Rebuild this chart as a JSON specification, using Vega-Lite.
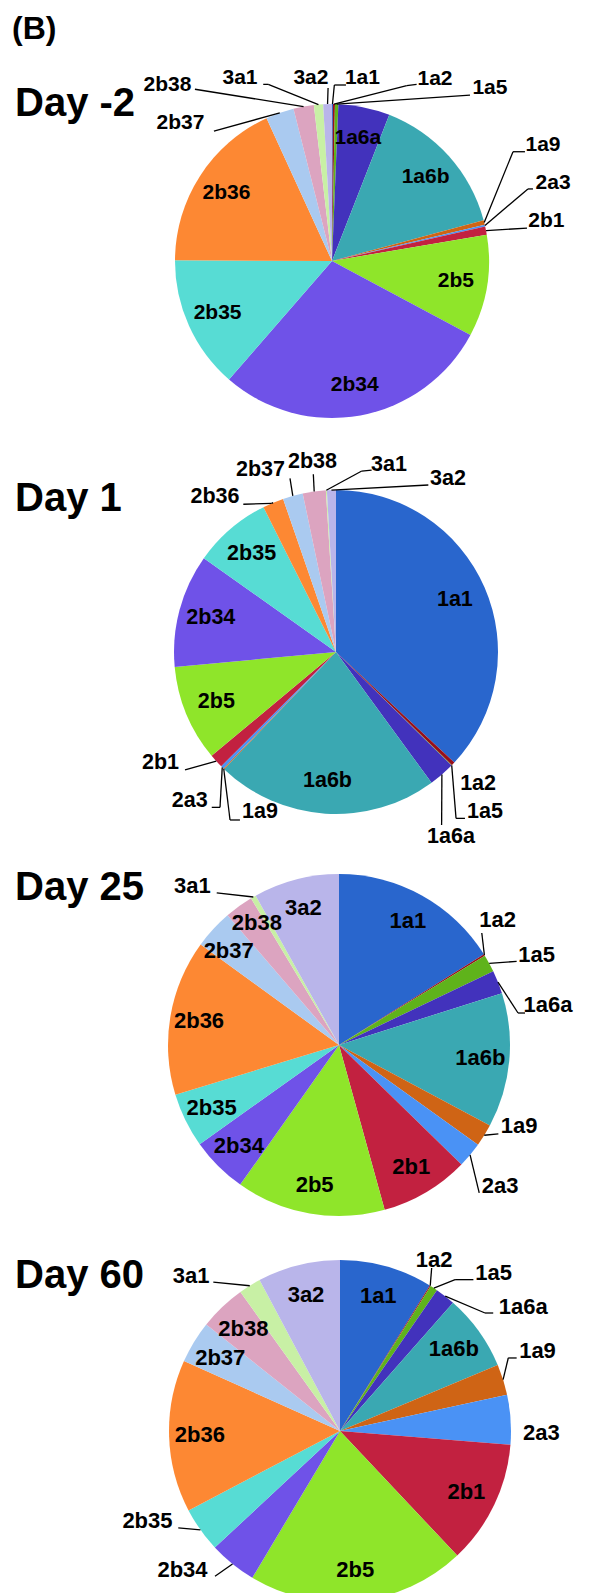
{
  "$schema": "https://vega.github.io/schema/vega-lite/v6.json",
  "padding": 0,
  "spacing": 0,
  "background": "white",
  "title": {"text": "(B)", "anchor": "start", "orient": "top", "offset": -46, "dx": 12, "fontSize": 32, "font": "Liberation Sans", "fontWeight": "bold", "color": "#000"},
  "config": {"view": {"stroke": null}},
  "datasets": {
    "comp": [
      {"day": "Day -2", "type": "1a1", "order": 1, "pct": 0.1},
      {"day": "Day -2", "type": "1a2", "order": 2, "pct": 0.2},
      {"day": "Day -2", "type": "1a5", "order": 3, "pct": 0.35},
      {"day": "Day -2", "type": "1a6a", "order": 4, "pct": 5.3},
      {"day": "Day -2", "type": "1a6b", "order": 5, "pct": 14.9},
      {"day": "Day -2", "type": "1a9", "order": 6, "pct": 0.45},
      {"day": "Day -2", "type": "2a3", "order": 7, "pct": 0.2},
      {"day": "Day -2", "type": "2b1", "order": 8, "pct": 0.85},
      {"day": "Day -2", "type": "2b5", "order": 9, "pct": 10.5},
      {"day": "Day -2", "type": "2b34", "order": 10, "pct": 28.6},
      {"day": "Day -2", "type": "2b35", "order": 11, "pct": 13.7},
      {"day": "Day -2", "type": "2b36", "order": 12, "pct": 18.1},
      {"day": "Day -2", "type": "2b37", "order": 13, "pct": 2.9},
      {"day": "Day -2", "type": "2b38", "order": 14, "pct": 2.1},
      {"day": "Day -2", "type": "3a1", "order": 15, "pct": 0.95},
      {"day": "Day -2", "type": "3a2", "order": 16, "pct": 0.9},
      {"day": "Day 1", "type": "1a1", "order": 1, "pct": 37},
      {"day": "Day 1", "type": "1a2", "order": 2, "pct": 0.35},
      {"day": "Day 1", "type": "1a5", "order": 3, "pct": 0.05},
      {"day": "Day 1", "type": "1a6a", "order": 4, "pct": 2.6},
      {"day": "Day 1", "type": "1a6b", "order": 5, "pct": 22.2},
      {"day": "Day 1", "type": "1a9", "order": 6, "pct": 0.1},
      {"day": "Day 1", "type": "2a3", "order": 7, "pct": 0.3},
      {"day": "Day 1", "type": "2b1", "order": 8, "pct": 1.4},
      {"day": "Day 1", "type": "2b5", "order": 9, "pct": 9.6},
      {"day": "Day 1", "type": "2b34", "order": 10, "pct": 11.3},
      {"day": "Day 1", "type": "2b35", "order": 11, "pct": 7.8},
      {"day": "Day 1", "type": "2b36", "order": 12, "pct": 2.1},
      {"day": "Day 1", "type": "2b37", "order": 13, "pct": 2.0},
      {"day": "Day 1", "type": "2b38", "order": 14, "pct": 2.3},
      {"day": "Day 1", "type": "3a1", "order": 15, "pct": 0.1},
      {"day": "Day 1", "type": "3a2", "order": 16, "pct": 0.9},
      {"day": "Day 25", "type": "1a1", "order": 1, "pct": 16.1},
      {"day": "Day 25", "type": "1a2", "order": 2, "pct": 0.15},
      {"day": "Day 25", "type": "1a5", "order": 3, "pct": 1.65},
      {"day": "Day 25", "type": "1a6a", "order": 4, "pct": 2.2},
      {"day": "Day 25", "type": "1a6b", "order": 5, "pct": 12.7},
      {"day": "Day 25", "type": "1a9", "order": 6, "pct": 2.1},
      {"day": "Day 25", "type": "2a3", "order": 7, "pct": 2.4},
      {"day": "Day 25", "type": "2b1", "order": 8, "pct": 8.4},
      {"day": "Day 25", "type": "2b5", "order": 9, "pct": 14.1},
      {"day": "Day 25", "type": "2b34", "order": 10, "pct": 5.35},
      {"day": "Day 25", "type": "2b35", "order": 11, "pct": 5.15},
      {"day": "Day 25", "type": "2b36", "order": 12, "pct": 14.7},
      {"day": "Day 25", "type": "2b37", "order": 13, "pct": 3.7},
      {"day": "Day 25", "type": "2b38", "order": 14, "pct": 2.7},
      {"day": "Day 25", "type": "3a1", "order": 15, "pct": 0.5},
      {"day": "Day 25", "type": "3a2", "order": 16, "pct": 8.1},
      {"day": "Day 60", "type": "1a1", "order": 1, "pct": 8.8},
      {"day": "Day 60", "type": "1a2", "order": 2, "pct": 0.1},
      {"day": "Day 60", "type": "1a5", "order": 3, "pct": 0.7},
      {"day": "Day 60", "type": "1a6a", "order": 4, "pct": 1.9},
      {"day": "Day 60", "type": "1a6b", "order": 5, "pct": 7.2},
      {"day": "Day 60", "type": "1a9", "order": 6, "pct": 2.9},
      {"day": "Day 60", "type": "2a3", "order": 7, "pct": 4.7},
      {"day": "Day 60", "type": "2b1", "order": 8, "pct": 11.7},
      {"day": "Day 60", "type": "2b5", "order": 9, "pct": 20.6},
      {"day": "Day 60", "type": "2b34", "order": 10, "pct": 4.5},
      {"day": "Day 60", "type": "2b35", "order": 11, "pct": 4.25},
      {"day": "Day 60", "type": "2b36", "order": 12, "pct": 14.4},
      {"day": "Day 60", "type": "2b37", "order": 13, "pct": 4.0},
      {"day": "Day 60", "type": "2b38", "order": 14, "pct": 4.4},
      {"day": "Day 60", "type": "3a1", "order": 15, "pct": 2.1},
      {"day": "Day 60", "type": "3a2", "order": 16, "pct": 7.8}
    ]
  },
  "vconcat": [
    {
      "width": 591, "height": 450,
      "title": {"text": "Day -2", "anchor": "start", "offset": -124, "dx": 15, "fontSize": 40, "font": "Liberation Sans", "fontWeight": "bold", "color": "#000"},
      "data": {"name": "comp"},
      "transform": [
        {"filter": "datum.day == 'Day -2'"},
        {"stack": "pct", "groupby": [], "sort": [{"field": "order", "order": "ascending"}], "offset": "normalize", "as": ["s0", "s1"]},
        {"calculate": "PI * (datum.s0 + datum.s1)", "as": "mid"},
        {"calculate": "sin(datum.mid)", "as": "ux"},
        {"calculate": "cos(datum.mid)", "as": "uy"},
        {"calculate": "{'2b38': [-1.048, 1.123, -0.873, 1.094, -0.873, 1.094], '3a1': [-0.586, 1.164, -0.406, 1.125, -0.438, 1.125], '3a2': [-0.134, 1.166, -0.025, 1.102, -0.025, 1.102], '1a1': [0.194, 1.166, 0.015, 1.121, 0.089, 1.121], '1a2': [0.656, 1.159, 0.476, 1.117, 0.539, 1.125], '1a5': [1.006, 1.1, 0.879, 1.057, 0.879, 1.057], '2b37': [-0.965, 0.879, -0.752, 0.828, -0.752, 0.828], '1a9': [1.344, 0.739, 1.153, 0.696, 1.229, 0.696], '2a3': [1.408, 0.497, 1.248, 0.459, 1.28, 0.459], '2b1': [1.366, 0.255, 1.242, 0.21, 1.242, 0.21]}[datum.type]", "as": "lab"},
        {"calculate": "isValid(datum.lab) ? datum.lab[0] : 0.8 * datum.ux", "as": "tx"},
        {"calculate": "isValid(datum.lab) ? datum.lab[1] : 0.8 * datum.uy", "as": "ty"},
        {"calculate": "isValid(datum.lab) && length(datum.lab) > 2 ? datum.lab[2] : 0", "as": "ax"},
        {"calculate": "isValid(datum.lab) && length(datum.lab) > 2 ? datum.lab[3] : 0", "as": "ay"},
        {"calculate": "isValid(datum.lab) && length(datum.lab) > 2 ? datum.lab[4] : 0", "as": "bx"},
        {"calculate": "isValid(datum.lab) && length(datum.lab) > 2 ? datum.lab[5] : 0", "as": "by"}
      ],
      "layer": [
        {
          "mark": {"type": "arc", "outerRadius": 157},
          "encoding": {
            "x": {"datum": 0, "type": "quantitative", "scale": {"domain": [-2.1146, 1.6497], "nice": false, "zero": false}, "axis": null},
            "y": {"datum": 0, "type": "quantitative", "scale": {"domain": [-1.2038, 1.6624], "nice": false, "zero": false}, "axis": null},
            "theta": {"field": "s0", "type": "quantitative", "scale": {"domain": [0, 1]}},
            "theta2": {"field": "s1"},
            "color": {"field": "type", "type": "nominal", "legend": null, "scale": {"domain": ["1a1","1a2","1a5","1a6a","1a6b","1a9","2a3","2b1","2b5","2b34","2b35","2b36","2b37","2b38","3a1","3a2"], "range": ["#2966CD","#990F1A","#5FB31B","#4232BC","#3AA8B2","#CF6415","#4A92F5","#C22140","#8FE52A","#6F52E8","#57DCD4","#FD8833","#AACAF0","#DCA4C0","#C8F0A5","#B9B5EA"]}}
          }
        },
        {
          "transform": [{"filter": "isValid(datum.lab) && length(datum.lab) > 2"}],
          "mark": {"type": "rule", "color": "#000", "strokeWidth": 1.3},
          "encoding": {
            "x": {"field": "ux", "type": "quantitative", "scale": {"domain": [-2.1146, 1.6497], "nice": false, "zero": false}, "axis": null},
            "y": {"field": "uy", "type": "quantitative", "scale": {"domain": [-1.2038, 1.6624], "nice": false, "zero": false}, "axis": null},
            "x2": {"field": "ax"},
            "y2": {"field": "ay"}
          }
        },
        {
          "transform": [{"filter": "isValid(datum.lab) && length(datum.lab) > 2"}],
          "mark": {"type": "rule", "color": "#000", "strokeWidth": 1.3},
          "encoding": {
            "x": {"field": "ax", "type": "quantitative", "scale": {"domain": [-2.1146, 1.6497], "nice": false, "zero": false}, "axis": null},
            "y": {"field": "ay", "type": "quantitative", "scale": {"domain": [-1.2038, 1.6624], "nice": false, "zero": false}, "axis": null},
            "x2": {"field": "bx"},
            "y2": {"field": "by"}
          }
        },
        {
          "mark": {"type": "text", "font": "Liberation Sans", "fontWeight": "bold", "fontSize": 21, "align": "center", "baseline": "middle", "color": "#000"},
          "encoding": {
            "x": {"field": "tx", "type": "quantitative", "scale": {"domain": [-2.1146, 1.6497], "nice": false, "zero": false}, "axis": null},
            "y": {"field": "ty", "type": "quantitative", "scale": {"domain": [-1.2038, 1.6624], "nice": false, "zero": false}, "axis": null},
            "text": {"field": "type", "type": "nominal"}
          }
        }
      ]
    },
    {
      "width": 591, "height": 390,
      "title": {"text": "Day 1", "anchor": "start", "offset": -69, "dx": 15, "fontSize": 40, "font": "Liberation Sans", "fontWeight": "bold", "color": "#000"},
      "data": {"name": "comp"},
      "transform": [
        {"filter": "datum.day == 'Day 1'"},
        {"stack": "pct", "groupby": [], "sort": [{"field": "order", "order": "ascending"}], "offset": "normalize", "as": ["s0", "s1"]},
        {"calculate": "PI * (datum.s0 + datum.s1)", "as": "mid"},
        {"calculate": "sin(datum.mid)", "as": "ux"},
        {"calculate": "cos(datum.mid)", "as": "uy"},
        {"calculate": "{'2b36': [-0.747, 0.959, -0.397, 0.918, -0.572, 0.912], '2b37': [-0.466, 1.123, -0.284, 1.072, -0.284, 1.072], '2b38': [-0.145, 1.175, -0.14, 1.097, -0.14, 1.097], '3a1': [0.327, 1.154, 0.159, 1.117, 0.22, 1.123], '3a2': [0.691, 1.068, 0.57, 1.031, 0.57, 1.031], '2b1': [-1.083, -0.683, -0.932, -0.728, -0.932, -0.728], '2a3': [-0.903, -0.918, -0.716, -0.959, -0.767, -0.959], '1a9': [-0.469, -0.986, -0.654, -1.037, -0.593, -1.037], '1a2': [0.877, -0.815], '1a5': [0.92, -0.986, 0.741, -1.027, 0.796, -1.027], '1a6a': [0.71, -1.144, 0.652, -1.068, 0.652, -1.068]}[datum.type]", "as": "lab"},
        {"calculate": "isValid(datum.lab) ? datum.lab[0] : 0.8 * datum.ux", "as": "tx"},
        {"calculate": "isValid(datum.lab) ? datum.lab[1] : 0.8 * datum.uy", "as": "ty"},
        {"calculate": "isValid(datum.lab) && length(datum.lab) > 2 ? datum.lab[2] : 0", "as": "ax"},
        {"calculate": "isValid(datum.lab) && length(datum.lab) > 2 ? datum.lab[3] : 0", "as": "ay"},
        {"calculate": "isValid(datum.lab) && length(datum.lab) > 2 ? datum.lab[4] : 0", "as": "bx"},
        {"calculate": "isValid(datum.lab) && length(datum.lab) > 2 ? datum.lab[5] : 0", "as": "by"}
      ],
      "layer": [
        {
          "mark": {"type": "arc", "outerRadius": 162},
          "encoding": {
            "x": {"datum": 0, "type": "quantitative", "scale": {"domain": [-2.0741, 1.5741], "nice": false, "zero": false}, "axis": null},
            "y": {"datum": 0, "type": "quantitative", "scale": {"domain": [-1.1605, 1.2469], "nice": false, "zero": false}, "axis": null},
            "theta": {"field": "s0", "type": "quantitative", "scale": {"domain": [0, 1]}},
            "theta2": {"field": "s1"},
            "color": {"field": "type", "type": "nominal", "legend": null, "scale": {"domain": ["1a1","1a2","1a5","1a6a","1a6b","1a9","2a3","2b1","2b5","2b34","2b35","2b36","2b37","2b38","3a1","3a2"], "range": ["#2966CD","#990F1A","#5FB31B","#4232BC","#3AA8B2","#CF6415","#4A92F5","#C22140","#8FE52A","#6F52E8","#57DCD4","#FD8833","#AACAF0","#DCA4C0","#C8F0A5","#B9B5EA"]}}
          }
        },
        {
          "transform": [{"filter": "isValid(datum.lab) && length(datum.lab) > 2"}],
          "mark": {"type": "rule", "color": "#000", "strokeWidth": 1.3},
          "encoding": {
            "x": {"field": "ux", "type": "quantitative", "scale": {"domain": [-2.0741, 1.5741], "nice": false, "zero": false}, "axis": null},
            "y": {"field": "uy", "type": "quantitative", "scale": {"domain": [-1.1605, 1.2469], "nice": false, "zero": false}, "axis": null},
            "x2": {"field": "ax"},
            "y2": {"field": "ay"}
          }
        },
        {
          "transform": [{"filter": "isValid(datum.lab) && length(datum.lab) > 2"}],
          "mark": {"type": "rule", "color": "#000", "strokeWidth": 1.3},
          "encoding": {
            "x": {"field": "ax", "type": "quantitative", "scale": {"domain": [-2.0741, 1.5741], "nice": false, "zero": false}, "axis": null},
            "y": {"field": "ay", "type": "quantitative", "scale": {"domain": [-1.1605, 1.2469], "nice": false, "zero": false}, "axis": null},
            "x2": {"field": "bx"},
            "y2": {"field": "by"}
          }
        },
        {
          "mark": {"type": "text", "font": "Liberation Sans", "fontWeight": "bold", "fontSize": 21.5, "align": "center", "baseline": "middle", "color": "#000"},
          "encoding": {
            "x": {"field": "tx", "type": "quantitative", "scale": {"domain": [-2.0741, 1.5741], "nice": false, "zero": false}, "axis": null},
            "y": {"field": "ty", "type": "quantitative", "scale": {"domain": [-1.1605, 1.2469], "nice": false, "zero": false}, "axis": null},
            "text": {"field": "type", "type": "nominal"}
          }
        }
      ]
    },
    {
      "width": 591, "height": 380,
      "title": {"text": "Day 25", "anchor": "start", "offset": -60, "dx": 15, "fontSize": 40, "font": "Liberation Sans", "fontWeight": "bold", "color": "#000"},
      "data": {"name": "comp"},
      "transform": [
        {"filter": "datum.day == 'Day 25'"},
        {"stack": "pct", "groupby": [], "sort": [{"field": "order", "order": "ascending"}], "offset": "normalize", "as": ["s0", "s1"]},
        {"calculate": "PI * (datum.s0 + datum.s1)", "as": "mid"},
        {"calculate": "sin(datum.mid)", "as": "ux"},
        {"calculate": "cos(datum.mid)", "as": "uy"},
        {"calculate": "{'3a1': [-0.857, 0.928, -0.715, 0.889, -0.715, 0.889], '1a2': [0.927, 0.733, 0.835, 0.655, 0.835, 0.655], '1a5': [1.156, 0.528, 1.039, 0.489, 1.039, 0.489], '1a6a': [1.222, 0.236, 1.047, 0.187, 1.088, 0.187], '1a9': [1.053, -0.475, 0.932, -0.52, 0.932, -0.52], '2a3': [0.942, -0.826, 0.82, -0.865, 0.82, -0.865], '2b38': [-0.48, 0.715], '2b37': [-0.645, 0.55]}[datum.type]", "as": "lab"},
        {"calculate": "isValid(datum.lab) ? datum.lab[0] : 0.83 * datum.ux", "as": "tx"},
        {"calculate": "isValid(datum.lab) ? datum.lab[1] : 0.83 * datum.uy", "as": "ty"},
        {"calculate": "isValid(datum.lab) && length(datum.lab) > 2 ? datum.lab[2] : 0", "as": "ax"},
        {"calculate": "isValid(datum.lab) && length(datum.lab) > 2 ? datum.lab[3] : 0", "as": "ay"},
        {"calculate": "isValid(datum.lab) && length(datum.lab) > 2 ? datum.lab[4] : 0", "as": "bx"},
        {"calculate": "isValid(datum.lab) && length(datum.lab) > 2 ? datum.lab[5] : 0", "as": "by"}
      ],
      "layer": [
        {
          "mark": {"type": "arc", "outerRadius": 171},
          "encoding": {
            "x": {"datum": 0, "type": "quantitative", "scale": {"domain": [-1.9825, 1.4737], "nice": false, "zero": false}, "axis": null},
            "y": {"datum": 0, "type": "quantitative", "scale": {"domain": [-1.0702, 1.152], "nice": false, "zero": false}, "axis": null},
            "theta": {"field": "s0", "type": "quantitative", "scale": {"domain": [0, 1]}},
            "theta2": {"field": "s1"},
            "color": {"field": "type", "type": "nominal", "legend": null, "scale": {"domain": ["1a1","1a2","1a5","1a6a","1a6b","1a9","2a3","2b1","2b5","2b34","2b35","2b36","2b37","2b38","3a1","3a2"], "range": ["#2966CD","#990F1A","#5FB31B","#4232BC","#3AA8B2","#CF6415","#4A92F5","#C22140","#8FE52A","#6F52E8","#57DCD4","#FD8833","#AACAF0","#DCA4C0","#C8F0A5","#B9B5EA"]}}
          }
        },
        {
          "transform": [{"filter": "isValid(datum.lab) && length(datum.lab) > 2"}],
          "mark": {"type": "rule", "color": "#000", "strokeWidth": 1.3},
          "encoding": {
            "x": {"field": "ux", "type": "quantitative", "scale": {"domain": [-1.9825, 1.4737], "nice": false, "zero": false}, "axis": null},
            "y": {"field": "uy", "type": "quantitative", "scale": {"domain": [-1.0702, 1.152], "nice": false, "zero": false}, "axis": null},
            "x2": {"field": "ax"},
            "y2": {"field": "ay"}
          }
        },
        {
          "transform": [{"filter": "isValid(datum.lab) && length(datum.lab) > 2"}],
          "mark": {"type": "rule", "color": "#000", "strokeWidth": 1.3},
          "encoding": {
            "x": {"field": "ax", "type": "quantitative", "scale": {"domain": [-1.9825, 1.4737], "nice": false, "zero": false}, "axis": null},
            "y": {"field": "ay", "type": "quantitative", "scale": {"domain": [-1.0702, 1.152], "nice": false, "zero": false}, "axis": null},
            "x2": {"field": "bx"},
            "y2": {"field": "by"}
          }
        },
        {
          "mark": {"type": "text", "font": "Liberation Sans", "fontWeight": "bold", "fontSize": 22, "align": "center", "baseline": "middle", "color": "#000"},
          "encoding": {
            "x": {"field": "tx", "type": "quantitative", "scale": {"domain": [-1.9825, 1.4737], "nice": false, "zero": false}, "axis": null},
            "y": {"field": "ty", "type": "quantitative", "scale": {"domain": [-1.0702, 1.152], "nice": false, "zero": false}, "axis": null},
            "text": {"field": "type", "type": "nominal"}
          }
        }
      ]
    },
    {
      "width": 591, "height": 373,
      "title": {"text": "Day 60", "anchor": "start", "offset": -68, "dx": 15, "fontSize": 40, "font": "Liberation Sans", "fontWeight": "bold", "color": "#000"},
      "data": {"name": "comp"},
      "transform": [
        {"filter": "datum.day == 'Day 60'"},
        {"stack": "pct", "groupby": [], "sort": [{"field": "order", "order": "ascending"}], "offset": "normalize", "as": ["s0", "s1"]},
        {"calculate": "PI * (datum.s0 + datum.s1)", "as": "mid"},
        {"calculate": "sin(datum.mid)", "as": "ux"},
        {"calculate": "cos(datum.mid)", "as": "uy"},
        {"calculate": "{'3a1': [-0.871, 0.905, -0.741, 0.87, -0.741, 0.87], '1a2': [0.55, 1.002, 0.536, 0.953, 0.536, 0.953], '1a5': [0.899, 0.924, 0.673, 0.885, 0.78, 0.885], '1a6a': [1.072, 0.723, 0.848, 0.69, 0.896, 0.69], '1a9': [1.155, 0.466, 0.984, 0.427, 1.033, 0.427], '2a3': [1.177, -0.012], '2b35': [-1.126, -0.525, -0.946, -0.567, -0.946, -0.567], '2b34': [-0.921, -0.811, -0.731, -0.85, -0.731, -0.85]}[datum.type]", "as": "lab"},
        {"calculate": "isValid(datum.lab) ? datum.lab[0] : 0.82 * datum.ux", "as": "tx"},
        {"calculate": "isValid(datum.lab) ? datum.lab[1] : 0.82 * datum.uy", "as": "ty"},
        {"calculate": "isValid(datum.lab) && length(datum.lab) > 2 ? datum.lab[2] : 0", "as": "ax"},
        {"calculate": "isValid(datum.lab) && length(datum.lab) > 2 ? datum.lab[3] : 0", "as": "ay"},
        {"calculate": "isValid(datum.lab) && length(datum.lab) > 2 ? datum.lab[4] : 0", "as": "bx"},
        {"calculate": "isValid(datum.lab) && length(datum.lab) > 2 ? datum.lab[5] : 0", "as": "by"}
      ],
      "layer": [
        {
          "mark": {"type": "arc", "outerRadius": 171},
          "encoding": {
            "x": {"datum": 0, "type": "quantitative", "scale": {"domain": [-1.9883, 1.4678], "nice": false, "zero": false}, "axis": null},
            "y": {"datum": 0, "type": "quantitative", "scale": {"domain": [-0.9942, 1.1871], "nice": false, "zero": false}, "axis": null},
            "theta": {"field": "s0", "type": "quantitative", "scale": {"domain": [0, 1]}},
            "theta2": {"field": "s1"},
            "color": {"field": "type", "type": "nominal", "legend": null, "scale": {"domain": ["1a1","1a2","1a5","1a6a","1a6b","1a9","2a3","2b1","2b5","2b34","2b35","2b36","2b37","2b38","3a1","3a2"], "range": ["#2966CD","#990F1A","#5FB31B","#4232BC","#3AA8B2","#CF6415","#4A92F5","#C22140","#8FE52A","#6F52E8","#57DCD4","#FD8833","#AACAF0","#DCA4C0","#C8F0A5","#B9B5EA"]}}
          }
        },
        {
          "transform": [{"filter": "isValid(datum.lab) && length(datum.lab) > 2"}],
          "mark": {"type": "rule", "color": "#000", "strokeWidth": 1.3},
          "encoding": {
            "x": {"field": "ux", "type": "quantitative", "scale": {"domain": [-1.9883, 1.4678], "nice": false, "zero": false}, "axis": null},
            "y": {"field": "uy", "type": "quantitative", "scale": {"domain": [-0.9942, 1.1871], "nice": false, "zero": false}, "axis": null},
            "x2": {"field": "ax"},
            "y2": {"field": "ay"}
          }
        },
        {
          "transform": [{"filter": "isValid(datum.lab) && length(datum.lab) > 2"}],
          "mark": {"type": "rule", "color": "#000", "strokeWidth": 1.3},
          "encoding": {
            "x": {"field": "ax", "type": "quantitative", "scale": {"domain": [-1.9883, 1.4678], "nice": false, "zero": false}, "axis": null},
            "y": {"field": "ay", "type": "quantitative", "scale": {"domain": [-0.9942, 1.1871], "nice": false, "zero": false}, "axis": null},
            "x2": {"field": "bx"},
            "y2": {"field": "by"}
          }
        },
        {
          "mark": {"type": "text", "font": "Liberation Sans", "fontWeight": "bold", "fontSize": 22, "align": "center", "baseline": "middle", "color": "#000"},
          "encoding": {
            "x": {"field": "tx", "type": "quantitative", "scale": {"domain": [-1.9883, 1.4678], "nice": false, "zero": false}, "axis": null},
            "y": {"field": "ty", "type": "quantitative", "scale": {"domain": [-0.9942, 1.1871], "nice": false, "zero": false}, "axis": null},
            "text": {"field": "type", "type": "nominal"}
          }
        }
      ]
    }
  ]
}
